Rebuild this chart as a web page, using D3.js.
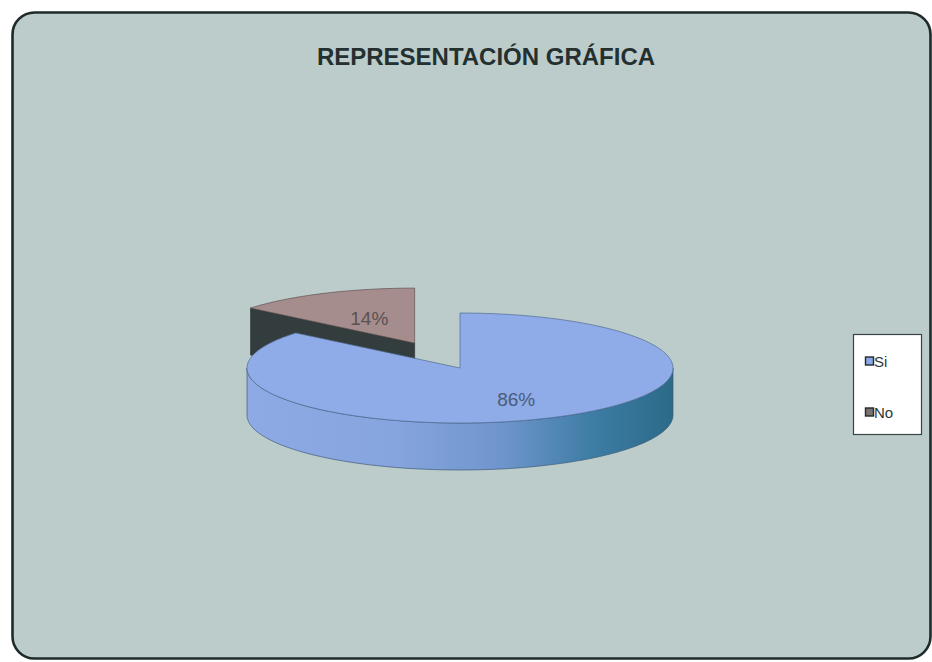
<!DOCTYPE html>
<html>
<head>
<meta charset="utf-8">
<script src="https://cdn.jsdelivr.net/npm/d3@7"></script>
<style>
  html, body { margin: 0; padding: 0; background: #ffffff; }
  svg { display: block; }
</style>
</head>
<body>
<svg id="chart" width="932" height="662"></svg>
<script>
// Survey answers and their shares
const categories = ["Si", "No"];
const values = [86, 14];
const labels = ["86%", "14%"];
const explodeBy = [0, 0.5];   // radial pull-out per slice, as a fraction of the radius

const topColors = ["#8fabe8", "#a58d8d"];
const sideColors = ["url(#siSide)", "#343d3d"];
const legendColors = ["#8aa8e6", "#7b7272"];

const W = 932, H = 662;
const svg = d3.select("#chart");

const defs = svg.append("defs");
const g = defs.append("linearGradient").attr("id", "siSide")
  .attr("x1", "0%").attr("x2", "100%").attr("y1", "0%").attr("y2", "0%");
[[0, "#8eaae4"], [0.35, "#86a4de"], [0.6, "#6f95cc"], [0.8, "#3f7ea6"], [1, "#2b6a88"]]
  .forEach(([o, c]) => g.append("stop").attr("offset", o).attr("stop-color", c));

// Chart frame
svg.append("rect")
  .attr("x", 12.5).attr("y", 12.5).attr("width", 918).attr("height", 646)
  .attr("rx", 22).attr("ry", 22)
  .attr("fill", "#bccccb").attr("stroke", "#1f2b2b").attr("stroke-width", 2.6);

// Title
svg.append("text")
  .attr("x", 486).attr("y", 65)
  .attr("text-anchor", "middle")
  .attr("font-family", "Liberation Sans, Arial, sans-serif")
  .attr("font-weight", "bold").attr("font-size", 24)
  .attr("fill", "#243030")
  .text("REPRESENTACIÓN GRÁFICA");

// 3D pie geometry: tilted ellipse with a visible rim
const cx = 460, cy = 368, rx = 213, ry = 55, depth = 47;
const pie = d3.pie().sort(null).startAngle(0).endAngle(2 * Math.PI)
  .value(d => d.value);
const data = categories.map((c, i) => ({ cat: c, value: values[i], i }));
const arcs = pie(data);

// angle (clockwise from 12 o'clock) -> projected point
const px = (o, a, f = 1) => o.x + rx * f * Math.sin(a);
const py = (o, a, f = 1) => o.y - ry * f * Math.cos(a);

function sample(a0, a1) {
  const n = Math.max(2, Math.ceil(Math.abs(a1 - a0) / 0.02));
  return d3.range(n + 1).map(k => a0 + (a1 - a0) * k / n);
}
const line = d3.line();

arcs.forEach(a => {
  const mid = (a.startAngle + a.endAngle) / 2;
  const e = explodeBy[a.data.i];
  a.o = { x: cx + rx * e * Math.sin(mid), y: cy - ry * e * Math.cos(mid) };
  a.mid = mid;
});

const layer = svg.append("g");
// back slice first, then front slice
const order = [1, 0];
order.forEach(idx => {
  const a = arcs[idx];
  const o = a.o;
  const gS = layer.append("g");

  // radial face at the start edge, visible when it faces the viewer
  const s = a.startAngle, en = a.endAngle;
  if (idx === 1) {
    const pts = [
      [o.x, o.y], [px(o, s), py(o, s)],
      [px(o, s), py(o, s) + depth], [o.x, o.y + depth]
    ];
    gS.append("path").attr("d", line(pts) + "Z")
      .attr("fill", sideColors[idx]).attr("stroke", "#252c2c").attr("stroke-width", 0.6);
  }

  // outer rim across the front half of the ellipse
  const r0 = Math.max(s, Math.PI / 2), r1 = Math.min(en, 3 * Math.PI / 2);
  if (r1 > r0) {
    const angs = sample(r0, r1);
    const topPts = angs.map(t => [px(o, t), py(o, t)]);
    const botPts = angs.slice().reverse().map(t => [px(o, t), py(o, t) + depth]);
    gS.append("path").attr("d", line(topPts.concat(botPts)) + "Z")
      .attr("fill", sideColors[idx]).attr("stroke", "#3b5a78").attr("stroke-width", 0.7);
  }

  // top face
  const facePts = [[o.x, o.y]].concat(sample(s, en).map(t => [px(o, t), py(o, t)]));
  gS.append("path").attr("d", line(facePts) + "Z")
    .attr("fill", topColors[idx]).attr("stroke", idx === 0 ? "#4f6c92" : "#5e5050")
    .attr("stroke-width", 0.7);
});

// value labels
const labelF = [0.62, 0.5];
arcs.forEach(a => {
  const i = a.data.i;
  svg.append("text")
    .attr("x", px(a.o, a.mid, labelF[i]))
    .attr("y", py(a.o, a.mid, labelF[i]) + 7)
    .attr("text-anchor", "middle")
    .attr("font-family", "Liberation Sans, Arial, sans-serif")
    .attr("font-size", 19)
    .attr("fill", i === 0 ? "#4a5c78" : "#5a5252")
    .text(labels[i]);
});

// legend
const lg = svg.append("g");
lg.append("rect").attr("x", 853.5).attr("y", 334.5).attr("width", 68).attr("height", 100)
  .attr("fill", "#ffffff").attr("stroke", "#3a4444").attr("stroke-width", 1.2);
const ly = d3.scalePoint().domain(categories).range([361, 412]);
categories.forEach((c, i) => {
  lg.append("rect").attr("x", 865.5).attr("y", ly(c) - 4).attr("width", 8).attr("height", 8)
    .attr("fill", legendColors[i]).attr("stroke", "#222a2a").attr("stroke-width", 1.4);
  lg.append("text").attr("x", 874).attr("y", ly(c) + 5.5)
    .attr("font-family", "Liberation Sans, Arial, sans-serif").attr("font-size", 15)
    .attr("fill", "#2e3838").text(c);
});
</script>
</body>
</html>
